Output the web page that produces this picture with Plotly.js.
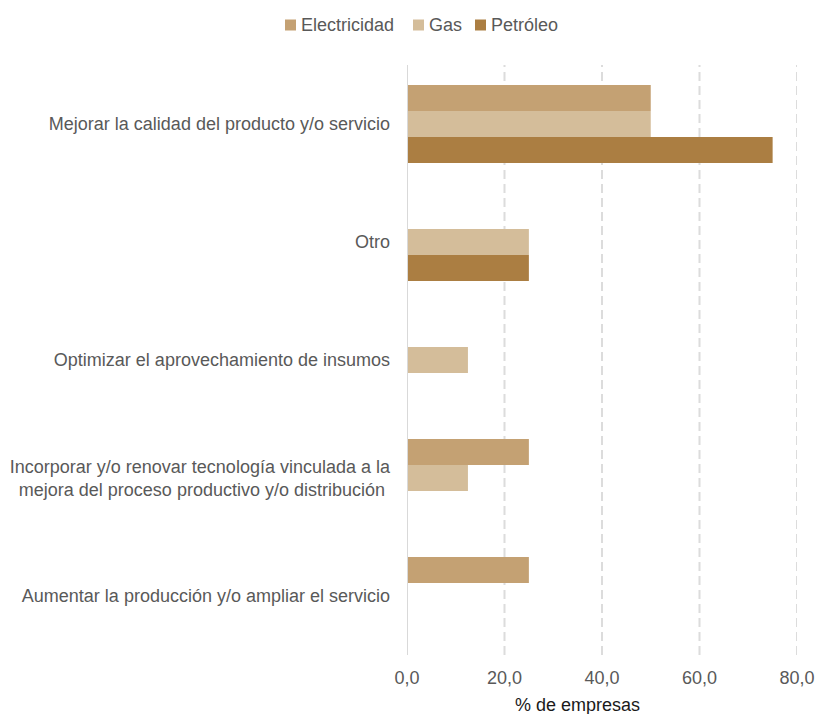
<!DOCTYPE html>
<html>
<head>
<meta charset="utf-8">
<script src="https://cdn.plot.ly/plotly-3.0.1.min.js"></script>
<style>html,body{margin:0;padding:0;background:#fff;}#chart{width:816px;height:714px;}</style>
</head>
<body>
<div id="chart"></div>
<script>
const categories = [
  "Mejorar la calidad del producto y/o servicio",
  "Otro",
  "Optimizar el aprovechamiento de insumos",
  "Incorporar y/o renovar tecnología vinculada a la<br>mejora del proceso productivo y/o distribución ",
  "Aumentar la producción y/o ampliar el servicio"
];
const seriesNames = ["Electricidad", "Gas", "Petróleo"];
const electricidad = [50, 0, 0, 25, 25];
const gas = [50, 25, 12.5, 12.5, 0];
const petroleo = [75, 25, 0, 0, 0];
const xTicks = [0, 20, 40, 60, 80];
const colors = ["#C4A173", "#D4BD9A", "#AB7E42"];

const W = 816, H = 714, ML = 407, MR = 19, MT = 65, MB = 59;
const PW = W - ML - MR, PH = H - MT - MB;
const px2x = p => (p - ML) / PW;
const py2y = p => 1 - (p - MT) / PH;

const seriesValues = [electricidad, gas, petroleo];
const traces = seriesNames.map((name, i) => ({
  type: "bar",
  orientation: "h",
  name: name,
  y: categories,
  x: seriesValues[i].map(v => v === 0 ? null : v),
  marker: {color: colors[i], line: {width: 0}},
  hoverinfo: "x+y",
  showlegend: false
}));

const gridShapes = xTicks.filter(v => v > 0).map(v => ({
  type: "line", xref: "x", yref: "paper", x0: v, x1: v, y0: 0, y1: 1, layer: "below",
  line: {color: "#DCDCDC", width: 2, dash: "9px,5px"}
}));

// custom legend (small squares close to the text, as in the reference)
const legendLeft = [285, 413, 475];
const legendY = 25, sq = 11;
const legendShapes = seriesNames.map((n, i) => ({
  type: "rect", xref: "paper", yref: "paper",
  x0: px2x(legendLeft[i]), x1: px2x(legendLeft[i] + sq),
  y0: py2y(legendY + sq / 2), y1: py2y(legendY - sq / 2),
  fillcolor: colors[i], line: {width: 0}
}));
const legendTexts = seriesNames.map((n, i) => ({
  text: n, xref: "paper", yref: "paper",
  x: px2x(legendLeft[i] + sq + 3), y: py2y(legendY),
  xanchor: "left", yanchor: "middle", showarrow: false,
  font: {size: 18, color: "#595959"}
}));

const layout = {
  width: W, height: H,
  margin: {l: ML, r: MR, t: MT, b: MB},
  paper_bgcolor: "#fff", plot_bgcolor: "#fff",
  font: {family: "Liberation Sans, Arial, sans-serif", size: 18, color: "#595959"},
  separators: ",.",
  barmode: "group",
  bargap: 0.34,
  bargroupgap: 0,
  showlegend: false,
  xaxis: {
    range: [0, 80], tickvals: xTicks, tickformat: ".1f",
    showgrid: false,
    zeroline: false, showline: false, ticks: "", ticklabelstandoff: 10,
    tickfont: {size: 18, color: "#595959"}, fixedrange: true
  },
  yaxis: {
    autorange: "reversed", showgrid: false, zeroline: false, showline: false,
    ticks: "", ticklabelstandoff: 16, tickfont: {size: 18, color: "#595959"},
    fixedrange: true
  },
  shapes: gridShapes.concat([{type: "line", xref: "x", yref: "paper", x0: 0, x1: 0, y0: 0, y1: 1,
            line: {color: "#D9D9D9", width: 2}}]).concat(legendShapes),
  annotations: [{text: "% de empresas", xref: "paper", yref: "paper", x: 0.436, y: -0.085,
                 xanchor: "center", yanchor: "middle", showarrow: false,
                 font: {size: 18, color: "#1a1a1a"}}].concat(legendTexts)
};

Plotly.newPlot("chart", traces, layout, {displayModeBar: false, staticPlot: true});
</script>
</body>
</html>
